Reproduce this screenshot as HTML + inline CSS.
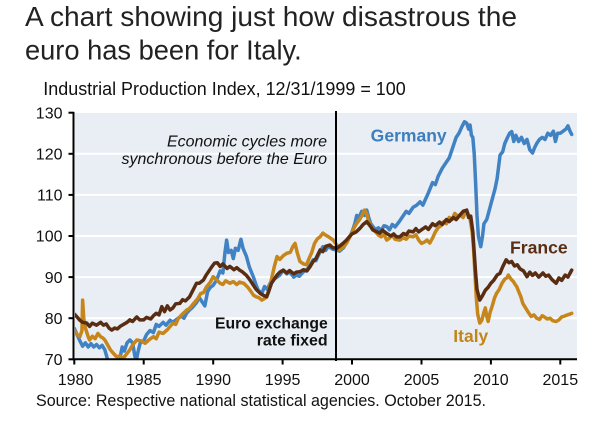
<!DOCTYPE html>
<html>
<head>
<meta charset="utf-8">
<style>
html,body{margin:0;padding:0;background:#fff;}
svg{display:block;}
text{font-family:"Liberation Sans",Arial,sans-serif;}
</style>
</head>
<body>
<svg width="607" height="425" viewBox="0 0 607 425" xmlns="http://www.w3.org/2000/svg">
<rect x="0" y="0" width="607" height="425" fill="#ffffff"/>
<!-- Title -->
<text x="25" y="26" font-size="27.5" fill="#222" textLength="492" lengthAdjust="spacingAndGlyphs">A chart showing just how disastrous the</text>
<text x="25" y="59.5" font-size="27.5" fill="#222" textLength="276.7" lengthAdjust="spacingAndGlyphs">euro has been for Italy.</text>
<text x="43.3" y="95" font-size="18" fill="#111" textLength="362.4" lengthAdjust="spacingAndGlyphs">Industrial Production Index, 12/31/1999 = 100</text>

<!-- Plot background -->
<rect x="75" y="113" width="502" height="246.3" fill="#e8eef3"/>
<!-- gridlines -->
<g stroke="#ffffff" stroke-width="2">
<line x1="75" y1="153.8" x2="577" y2="153.8"/>
<line x1="75" y1="194.9" x2="577" y2="194.9"/>
<line x1="75" y1="236" x2="577" y2="236"/>
<line x1="75" y1="277.1" x2="577" y2="277.1"/>
<line x1="75" y1="318.2" x2="577" y2="318.2"/>
</g>

<defs>
<clipPath id="pc"><rect x="75" y="113" width="502" height="246"/></clipPath>
</defs>

<g clip-path="url(#pc)">
<g transform="translate(74.3 359.3) scale(13.886 -4.11) translate(-1980 -70)" fill="none" stroke-linejoin="round" stroke-linecap="round">
<!-- Germany -->
<polyline vector-effect="non-scaling-stroke" stroke="#4082c3" stroke-width="3.5" points="1980,77.5 1980.2,76 1980.4,74.5 1980.6,73.2 1980.8,74 1981,73 1981.2,73.8 1981.4,73 1981.6,73.6 1981.8,72.8 1982,73.4 1982.2,72.3 1982.35,70.5 1982.5,68.5 1982.8,68 1983.1,68.5 1983.3,70.5 1983.45,73 1983.6,72 1983.8,74 1984,74.7 1984.2,74 1984.35,71 1984.45,69.5 1984.6,72 1984.75,74 1985,74.5 1985.2,76 1985.45,77 1985.7,76.5 1985.9,78.5 1986.1,78 1986.4,79 1986.6,78.3 1986.9,79.5 1987.1,79 1987.4,79.8 1987.7,80.5 1987.9,80 1988.1,81.3 1988.3,82 1988.5,82.6 1988.8,83.8 1989,85 1989.2,84 1989.4,83 1989.6,86.5 1989.8,87.5 1990,88 1990.25,89.3 1990.5,91.5 1990.7,91 1990.85,96 1990.97,99 1991.1,96 1991.3,96.5 1991.45,94.5 1991.6,97 1991.8,96.5 1992,99.2 1992.15,97 1992.4,95 1992.6,92.5 1992.9,90 1993.1,88 1993.25,86.8 1993.5,86 1993.7,87.7 1993.9,87 1994.1,88.5 1994.3,89.3 1994.6,90 1994.8,90.5 1995.05,91.7 1995.3,90.8 1995.5,91.3 1995.8,90 1996,90.5 1996.2,90.2 1996.5,91.3 1996.8,92 1997,93 1997.2,94.2 1997.4,94 1997.6,95.5 1997.9,97.4 1998.1,96.5 1998.3,97.5 1998.6,96.8 1998.9,96.6 1999.1,96.3 1999.4,97.2 1999.6,98.5 1999.8,99.5 2000,101 2000.2,103 2000.34,105 2000.5,104.5 2000.7,106 2000.9,105 2001.06,106.3 2001.2,104.5 2001.35,103 2001.5,102.3 2001.7,101.5 2001.9,102 2002.1,101.3 2002.3,102.5 2002.5,102.3 2002.7,101.5 2002.9,102.8 2003.1,102.2 2003.4,103.5 2003.6,104.5 2003.9,106 2004.1,105.5 2004.4,107 2004.66,107.5 2004.9,108.3 2005.1,107.5 2005.3,109 2005.5,110.5 2005.8,113 2006,112.5 2006.2,114.5 2006.5,116.5 2006.8,118 2007,119 2007.2,121 2007.5,124 2007.7,125 2007.9,126.5 2008.1,127.8 2008.25,127.5 2008.4,126 2008.5,127 2008.6,124.5 2008.7,124 2008.8,120 2008.9,113 2009,105 2009.1,100 2009.27,97.4 2009.4,100 2009.5,103 2009.7,104 2009.9,106.5 2010.1,109 2010.3,111.5 2010.45,114 2010.66,119.7 2010.85,120.5 2011,122.5 2011.2,124 2011.35,125 2011.5,125.4 2011.65,123 2011.8,124.5 2012,123 2012.2,124 2012.4,122.5 2012.6,123.5 2012.8,121 2013,120.2 2013.15,121.5 2013.3,122.5 2013.5,123.5 2013.7,124 2013.9,123.5 2014.1,125 2014.3,124.5 2014.5,125.5 2014.65,123 2014.8,125 2015,125 2015.2,125.5 2015.4,126 2015.55,126.8 2015.7,125.5 2015.82,124.7"/>
<!-- Italy -->
<polyline vector-effect="non-scaling-stroke" stroke="#c6861b" stroke-width="3.5" points="1980,77.1 1980.2,76 1980.4,75.5 1980.55,77 1980.6,84.4 1980.68,80 1980.8,77.6 1981,75.5 1981.1,74.7 1981.3,75.6 1981.5,75 1981.7,76.3 1981.9,75.5 1982.05,75.2 1982.2,74.7 1982.4,73.5 1982.6,72.3 1982.8,71.5 1983.05,70.6 1983.3,70.8 1983.5,70.2 1983.7,71 1984,72.3 1984.2,73.5 1984.5,74.7 1984.8,74.5 1985.1,73.9 1985.4,74.8 1985.7,75.5 1985.9,75 1986.1,76.6 1986.4,76.3 1986.7,77.2 1987.1,78.8 1987.3,78.5 1987.5,80 1987.85,81.2 1988.1,82 1988.3,82.4 1988.6,83.6 1988.9,84.8 1989.1,86 1989.3,86.2 1989.5,87.5 1989.8,88.8 1990,90.1 1990.2,89.5 1990.5,88.5 1990.7,88.2 1990.9,89.1 1991.2,88.5 1991.45,88.9 1991.7,88.2 1991.9,88.8 1992.2,88.5 1992.5,87.5 1992.7,86.6 1992.9,85.6 1993.1,85.2 1993.3,85 1993.5,84.4 1993.7,84.8 1993.85,85.2 1994,86.8 1994.2,89.5 1994.4,92.5 1994.6,95 1994.8,94.3 1995.05,95.2 1995.3,95.8 1995.55,96 1995.75,97.5 1995.9,98.2 1996.05,96 1996.25,93.8 1996.5,93.2 1996.73,93 1996.9,94.5 1997.1,96 1997.3,98.2 1997.5,99.3 1997.7,99.8 1997.9,100.7 1998.1,100.2 1998.4,99.6 1998.65,99 1998.9,97.8 1999.1,96.6 1999.35,97.2 1999.6,98.2 1999.8,99.5 2000,100.8 2000.15,102 2000.34,103.1 2000.55,104 2000.75,105.2 2000.9,106.3 2001.05,105.5 2001.2,103.5 2001.35,102.5 2001.5,101.5 2001.7,101 2001.9,100.2 2002.1,99.8 2002.3,100.4 2002.5,99 2002.7,99.5 2002.9,100.2 2003.1,99.2 2003.45,99 2003.7,99.6 2003.9,99.2 2004.1,100 2004.4,99.8 2004.6,100.3 2004.8,99 2005,98.2 2005.2,98.5 2005.4,99 2005.6,98.3 2005.8,99.5 2006,101 2006.2,102 2006.4,102.5 2006.6,103.5 2006.8,103 2007,104.5 2007.2,104 2007.4,105.5 2007.6,104.8 2007.8,105.2 2008,104.5 2008.2,106 2008.35,105.5 2008.5,104.2 2008.65,101 2008.75,97 2008.85,91 2008.95,85 2009.05,81 2009.2,78.8 2009.35,79.5 2009.5,81.5 2009.6,82.5 2009.7,80.5 2009.8,79.2 2009.95,81.5 2010.1,83 2010.25,84.8 2010.4,86 2010.6,87 2010.8,88.5 2011,89.5 2011.15,89.8 2011.26,90.5 2011.45,89.5 2011.6,89 2011.75,88.2 2011.86,87.7 2012,86.5 2012.15,85.3 2012.3,83.6 2012.5,82.5 2012.7,81.4 2012.9,80.4 2013.1,80.8 2013.3,80 2013.5,79.7 2013.7,80.6 2013.9,80.2 2014.05,79.8 2014.26,80 2014.45,79.4 2014.7,79.2 2014.9,79.6 2015.1,80.3 2015.3,80.5 2015.5,80.8 2015.7,81 2015.82,81.2"/>
<!-- France -->
<polyline vector-effect="non-scaling-stroke" stroke="#5a2d12" stroke-width="3.5" points="1980,81 1980.2,80.3 1980.4,79.5 1980.6,79 1980.9,78.8 1981.1,78 1981.3,78.8 1981.6,78.3 1981.9,79 1982.1,78.3 1982.3,78.6 1982.5,77.6 1982.7,77.1 1982.9,77.6 1983.1,77.4 1983.3,78 1983.5,78.4 1983.8,79 1984,79.6 1984.2,79.2 1984.5,80.3 1984.7,79.6 1985,79.6 1985.2,80.2 1985.5,79.8 1985.7,80.6 1985.9,81.2 1986.1,80.8 1986.3,82.8 1986.5,81.6 1986.7,83 1986.9,82 1987.1,82.5 1987.3,83.5 1987.6,83.6 1987.8,84.5 1988,84.2 1988.3,85.2 1988.5,86.5 1988.8,88.5 1989,88.5 1989.3,89.3 1989.5,90.5 1989.7,91.5 1989.9,92.5 1990.1,93.4 1990.3,93.5 1990.5,92.6 1990.7,93.2 1991,92.1 1991.2,92.6 1991.5,91.8 1991.7,92.3 1991.9,91.7 1992.1,91.3 1992.4,90.4 1992.65,89.3 1992.9,88 1993.1,87 1993.4,86 1993.6,85.6 1993.85,85.2 1994,86.5 1994.2,88.5 1994.4,89.5 1994.6,90.5 1994.8,91.2 1995.05,91.7 1995.3,91 1995.5,91.6 1995.8,90.8 1996,91.2 1996.25,91.3 1996.5,91.8 1996.75,91.5 1996.97,92.5 1997.2,93.8 1997.4,94.5 1997.7,96.6 1997.9,96.2 1998.1,97.5 1998.4,97.8 1998.6,97.2 1998.9,97 1999.1,97.5 1999.35,98.2 1999.6,99 1999.8,99.8 2000,100.5 2000.3,101 2000.58,101.9 2000.8,102.8 2001.06,103.5 2001.3,102.5 2001.5,101.5 2001.8,101 2002,100.7 2002.2,101.4 2002.5,100.6 2002.8,100 2003,100.5 2003.2,99.8 2003.45,99.8 2003.7,100.6 2003.9,100.3 2004.1,101.2 2004.4,101 2004.6,101.8 2004.8,101 2005,101.5 2005.3,102.2 2005.5,101.6 2005.8,103 2006,102.5 2006.3,103.4 2006.5,102.8 2006.8,104 2007,103.5 2007.3,104.5 2007.5,104 2007.8,105.2 2008,106 2008.26,106.3 2008.4,104.5 2008.55,104.8 2008.7,101 2008.8,96 2008.9,91 2009,87 2009.2,84.4 2009.4,85.5 2009.6,86.8 2009.8,87.5 2010,88.5 2010.2,89.2 2010.45,90.5 2010.65,90.9 2010.85,92.5 2011.1,94.2 2011.3,93.5 2011.5,93.8 2011.7,92.7 2011.9,93 2012.1,92 2012.35,91.5 2012.6,90.1 2012.8,91.2 2013,90.4 2013.2,91 2013.45,90 2013.75,91 2013.95,90.2 2014.15,90.5 2014.4,89.4 2014.7,88.5 2014.9,89.8 2015.1,89.2 2015.35,90.5 2015.55,90 2015.82,91.7"/>
</g>
</g>

<!-- Euro fixing vertical line -->
<line x1="336" y1="111" x2="336" y2="361" stroke="#000" stroke-width="2"/>

<!-- Axes -->
<line x1="73.5" y1="112" x2="73.5" y2="360.3" stroke="#000" stroke-width="2"/>
<line x1="72.5" y1="359.3" x2="577" y2="359.3" stroke="#000" stroke-width="2"/>
<g stroke="#000" stroke-width="2">
<line x1="68.5" y1="112.7" x2="74" y2="112.7"/>
<line x1="68.5" y1="153.8" x2="74" y2="153.8"/>
<line x1="68.5" y1="194.9" x2="74" y2="194.9"/>
<line x1="68.5" y1="236" x2="74" y2="236"/>
<line x1="68.5" y1="277.1" x2="74" y2="277.1"/>
<line x1="68.5" y1="318.2" x2="74" y2="318.2"/>
<line x1="68.5" y1="359.3" x2="74" y2="359.3"/>
<line x1="74.3" y1="359" x2="74.3" y2="364.5"/>
<line x1="143.7" y1="359" x2="143.7" y2="364.5"/>
<line x1="213.2" y1="359" x2="213.2" y2="364.5"/>
<line x1="282.6" y1="359" x2="282.6" y2="364.5"/>
<line x1="352" y1="359" x2="352" y2="364.5"/>
<line x1="421.5" y1="359" x2="421.5" y2="364.5"/>
<line x1="490.9" y1="359" x2="490.9" y2="364.5"/>
<line x1="560.3" y1="359" x2="560.3" y2="364.5"/>
</g>

<!-- Y tick labels -->
<g font-size="16" fill="#111" text-anchor="end">
<text x="62.5" y="118.4">130</text>
<text x="62.5" y="159.5">120</text>
<text x="62.5" y="200.6">110</text>
<text x="62.5" y="241.7">100</text>
<text x="62.5" y="282.8">90</text>
<text x="62.5" y="323.9">80</text>
<text x="62.5" y="365">70</text>
</g>
<!-- X tick labels -->
<g font-size="16" fill="#111" text-anchor="middle">
<text x="75.5" y="385">1980</text>
<text x="143.7" y="385">1985</text>
<text x="213.2" y="385">1990</text>
<text x="282.6" y="385">1995</text>
<text x="352" y="385">2000</text>
<text x="421.5" y="385">2005</text>
<text x="490.9" y="385">2010</text>
<text x="560.3" y="385">2015</text>
</g>

<!-- Annotations -->
<g font-size="16" font-style="italic" fill="#111" text-anchor="end">
<text x="327" y="146.5">Economic cycles more</text>
<text x="327" y="164">synchronous before the Euro</text>
</g>
<g font-size="16" font-weight="bold" fill="#111">
<text x="215" y="328.5" textLength="112.7" lengthAdjust="spacingAndGlyphs">Euro exchange</text>
<text x="256.7" y="345.7" textLength="71" lengthAdjust="spacingAndGlyphs">rate fixed</text>
</g>
<text x="370.7" y="141.7" font-size="17.5" font-weight="bold" fill="#3d7ebf" textLength="76" lengthAdjust="spacingAndGlyphs">Germany</text>
<text x="510" y="253.3" font-size="17.5" font-weight="bold" fill="#5a2e14" textLength="57.7" lengthAdjust="spacingAndGlyphs">France</text>
<text x="453.3" y="342.2" font-size="17.5" font-weight="bold" fill="#c3851a" textLength="35" lengthAdjust="spacingAndGlyphs">Italy</text>

<!-- Source -->
<text x="36" y="406" font-size="17" fill="#111" textLength="450" lengthAdjust="spacingAndGlyphs">Source: Respective national statistical agencies. October 2015.</text>
</svg>
</body>
</html>
